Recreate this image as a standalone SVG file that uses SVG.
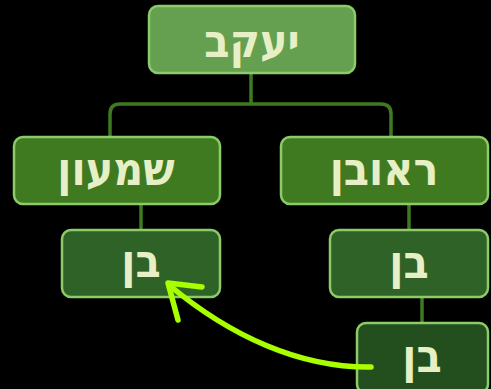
<svg xmlns="http://www.w3.org/2000/svg" width="491" height="389" viewBox="0 0 491 389">
<style>
.box{stroke:#8ccb69;stroke-width:2.5}
.l1{fill:#65a050}
.l2{fill:#3f7a21}
.l3{fill:#2f6226}
.l4{fill:#234e1d}
.t{font-family:"DejaVu Sans Condensed","DejaVu Sans",sans-serif;font-stretch:condensed;font-weight:bold;font-size:46px;fill:#e6efc5;text-anchor:middle;direction:rtl}
.c{fill:none;stroke:#3f7a22;stroke-width:3.5}
.a{fill:none;stroke:#a8ff00;stroke-width:5.5;stroke-linecap:round;stroke-linejoin:round}
</style>
<rect width="491" height="389" fill="#000"/>
<g id="connectors">
<path class="c" d="M251,73 V104 M110,137 V114 Q110,104 120,104 H381 Q391,104 391,114 V137"/>
<path class="c" d="M141,204 V230"/>
<path class="c" d="M409,204 V230"/>
<path class="c" d="M422,297 V323"/>
</g>
<g id="yaakov"><rect class="box l1" x="149" y="6" width="206" height="67" rx="9"/><text class="t" x="252" y="57">יעקב</text></g>
<g id="shimon"><rect class="box l2" x="14" y="137" width="206" height="67" rx="9"/><text class="t" x="116" y="185">שמעון</text></g>
<g id="reuven"><rect class="box l2" x="281" y="137" width="207" height="67" rx="9"/><text class="t" x="384" y="185">ראובן</text></g>
<g id="ben-left"><rect class="box l3" x="62" y="230" width="158" height="67" rx="9"/><text class="t" x="141" y="277">בן</text></g>
<g id="ben-right"><rect class="box l3" x="330" y="230" width="158" height="67" rx="9"/><text class="t" x="409" y="278">בן</text></g>
<g id="ben-bottom"><rect class="box l4" x="357" y="323" width="131" height="70" rx="9"/><text class="t" x="422" y="372">בן</text></g>
<g id="arrow">
<path class="a" d="M371,367 C300,368 230,336 169,285"/>
<path class="a" d="M202,287 L168,283 L178,320"/>
</g>
</svg>
